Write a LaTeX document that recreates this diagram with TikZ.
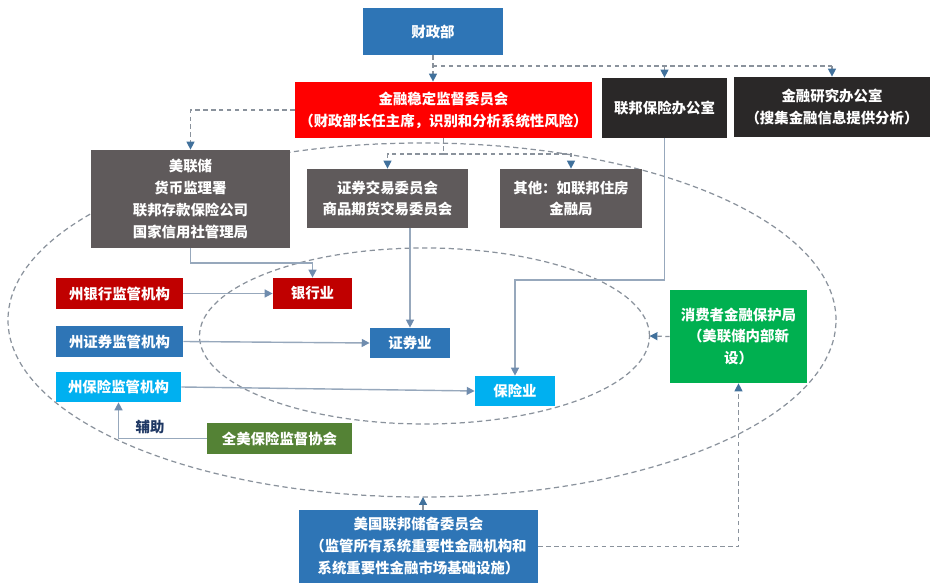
\documentclass[tikz,border=0pt]{standalone}
\usepackage{fontspec}
\setmainfont{Noto Sans CJK SC}
\usepackage{tikz}
\usetikzlibrary{arrows.meta}

\definecolor{czblue}{HTML}{2E75B6}
\definecolor{brightred}{HTML}{FF0000}
\definecolor{darkbox}{HTML}{2A2828}
\definecolor{graybox}{HTML}{5F5A5B}
\definecolor{darkred}{HTML}{C00000}
\definecolor{skyblue}{HTML}{00B0F0}
\definecolor{olive}{HTML}{548235}
\definecolor{brightgreen}{HTML}{00B050}
\definecolor{navy}{HTML}{1F3864}
\definecolor{lineblue}{HTML}{97A8BC}
\definecolor{tipblue}{HTML}{6F8CAE}
\definecolor{dashgray}{HTML}{8A929C}
\definecolor{dtipblue}{HTML}{41719C}

\begin{document}
\begin{tikzpicture}[
    box/.style={text=white, font=\fontsize{8.2}{12.5}\selectfont\bfseries, align=center, inner sep=0pt},
    conn/.style={draw=lineblue, line width=0.8pt, -{Triangle[length=4.5pt,width=4.5pt,color=tipblue]}},
    dline/.style={draw=dashgray, line width=0.7pt, dash pattern=on 2.5pt off 2pt},
    dconn/.style={dline, -{Triangle[length=4.5pt,width=4.5pt,color=dtipblue]}},
    ring/.style={draw=dashgray, line width=0.7pt, dash pattern=on 3pt off 2pt}]
    \useasboundingbox (0,0) rectangle (18.7,11.72);
    % Dashed rings
    \draw[ring] (8.44,5.32) ellipse (8.28 and 3.54);
    \draw[ring] (8.49,5.0) ellipse (4.5 and 1.76);
    \coordinate (inr) at (12.99,5.0);
    \coordinate (outb) at (8.46,1.78);
    % Top level
    \node[box, fill=czblue, minimum width=2.8cm, minimum height=0.94cm] (cz) at (8.66,11.09) {财政部};
    \node[box, fill=brightred, minimum width=5.94cm, minimum height=1.12cm] (fsoc) at (8.87,9.52)
        {金融稳定监督委员会\\（财政部长任主席，识别和分析系统性风险）};
    \node[box, fill=darkbox, minimum width=2.5cm, minimum height=1.2cm] (fio) at (13.29,9.56) {联邦保险办公室};
    \node[box, fill=darkbox, minimum width=3.92cm, minimum height=1.2cm] (ofr) at (16.64,9.58)
        {金融研究办公室\\（搜集金融信息提供分析）};
    % Federal agencies
    \node[box, fill=graybox, minimum width=3.98cm, minimum height=1.96cm] (fed) at (3.81,7.74)
        {美联储\\货币监理署\\联邦存款保险公司\\国家信用社管理局};
    \node[box, fill=graybox, minimum width=3.22cm, minimum height=1.18cm] (sec) at (7.75,7.75)
        {证券交易委员会\\商品期货交易委员会};
    \node[box, fill=graybox, minimum width=2.84cm, minimum height=1.18cm] (other) at (11.42,7.75)
        {其他：如联邦住房\\金融局};
    % State regulators
    \node[box, fill=darkred, minimum width=2.54cm, minimum height=0.62cm] (sbank) at (2.39,5.85) {州银行监管机构};
    \node[box, fill=czblue, minimum width=2.54cm, minimum height=0.62cm] (ssec) at (2.39,4.89) {州证券监管机构};
    \node[box, fill=skyblue, minimum width=2.5cm, minimum height=0.6cm] (sins) at (2.37,3.98) {州保险监管机构};
    \node[box, fill=olive, minimum width=2.9cm, minimum height=0.62cm] (naic) at (5.59,2.95) {全美保险监督协会};
    % Industries
    \node[box, fill=darkred, minimum width=1.58cm, minimum height=0.62cm] (bank) at (6.25,5.85) {银行业};
    \node[box, fill=czblue, minimum width=1.6cm, minimum height=0.6cm] (secind) at (8.2,4.86) {证券业};
    \node[box, fill=skyblue, minimum width=1.6cm, minimum height=0.6cm] (ins) at (10.3,3.9) {保险业};
    % CFPB and Fed board
    \node[box, fill=brightgreen, minimum width=2.74cm, minimum height=1.86cm] (cfpb) at (14.77,4.99)
        {消费者金融保护局\\（美联储内部新\\设）};
    \node[box, fill=czblue, minimum width=4.78cm, minimum height=1.46cm] (frb) at (8.37,0.79)
        {美国联邦储备委员会\\（监管所有系统重要性金融机构和\\系统重要性金融市场基础设施）};
    \node[font=\fontsize{8.2}{10}\selectfont\bfseries, text=navy] (aux) at (3.0,3.18) {辅助};
    % Dashed links
    \coordinate (tbus) at (8.66,10.4);
    \draw[dconn] (cz.south) -- (cz.south |- fsoc.north);
    \draw[dline] (tbus) -- (tbus -| ofr.north);
    \draw[dconn] (tbus -| fio.north) -- (fio.north);
    \draw[dconn] (tbus -| ofr.north) -- (ofr.north);
    \draw[dconn] (fsoc.west) -| (fed.north);
    \coordinate (mbus) at (8.87,8.64);
    \draw[dline] (fsoc.south) -- (mbus);
    \draw[dconn] (mbus) -| (sec.north);
    \draw[dconn] (mbus) -| (other.north);
    \draw[dconn] (cfpb.west) -- (inr);
    \draw[dconn] (frb.north -| outb) -- (outb);
    \draw[dconn] (frb.east) -| (cfpb.south);
    % Solid links
    \coordinate (fbk) at (6.25,6.46);
    \draw[conn] (fed.south) |- (fbk) -- (bank.north);
    \draw[conn] (sec.south -| secind.north) -- (secind.north);
    \coordinate (fik) at (10.3,6.12);
    \draw[conn] (fio.south) |- (fik) -- (ins.north);
    \draw[conn] (sbank.east) -- (bank.west);
    \draw[conn] (ssec.east) -- (secind.west);
    \draw[conn] (sins.east) -- (ins.west);
    \draw[conn] (naic.west) -| (sins.south);
\end{tikzpicture}
\end{document}
